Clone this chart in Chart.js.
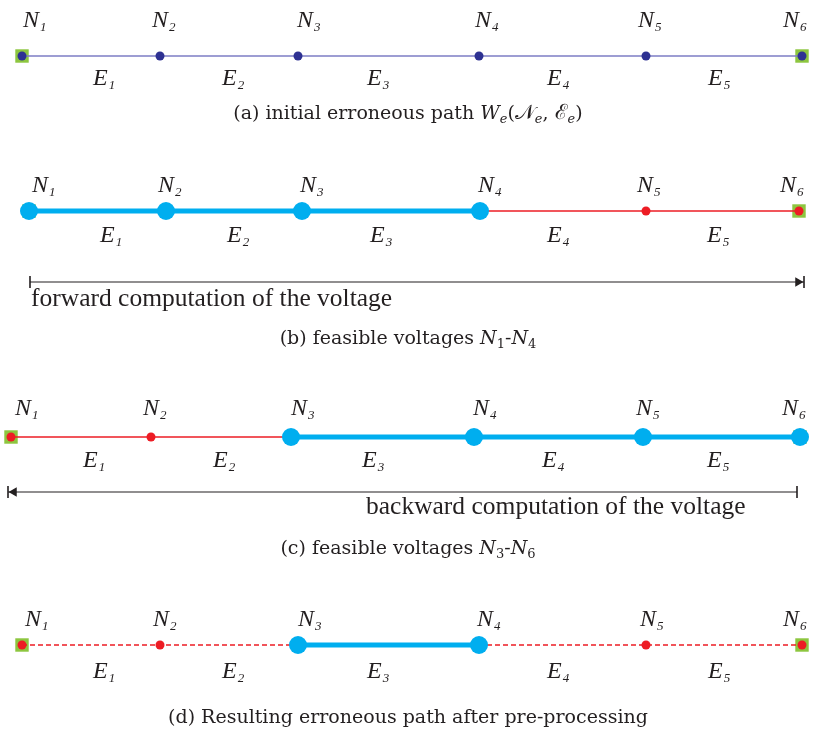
<!DOCTYPE html>
<html>
<head>
<meta charset="utf-8">
<script src="https://cdn.jsdelivr.net/npm/chart.js@4/dist/chart.umd.min.js"></script>
<style>
  html, body { margin: 0; padding: 0; background: #fff; }
  #path-chart { display: block; }
</style>
</head>
<body>
<canvas id="path-chart" width="817" height="735"></canvas>
<script>
// == 錯誤路徑前處理示意圖：四個面板 (a)-(d)，每列 6 個節點、5 條邊 ==

// 每個面板的路徑所在高度 (y 軸值)
const rowY = [56, 211, 437, 645];

// 節點位置 N1..N6
const nodeX = [
    [22, 160, 298, 479, 646, 802],
    [29, 166, 302, 480, 646, 799],
    [11, 151, 291, 474, 643, 800],
    [22, 160, 298, 479, 646, 802]
];

// 節點狀態：p = 原始, f = 可行電壓, x = 不可行
const nodeState = [
    ['p', 'p', 'p', 'p', 'p', 'p'],
    ['f', 'f', 'f', 'f', 'x', 'x'],
    ['x', 'x', 'f', 'f', 'f', 'f'],
    ['x', 'x', 'f', 'f', 'x', 'x']
];

// 邊狀態：d = 虛線 (被移除)
const edgeState = [
    ['p', 'p', 'p', 'p', 'p'],
    ['f', 'f', 'f', 'x', 'x'],
    ['x', 'x', 'f', 'f', 'f'],
    ['d', 'd', 'f', 'd', 'd']
];

// 標籤位置
const nodeNames = ['1', '2', '3', '4', '5', '6'];
const edgeNames = ['1', '2', '3', '4', '5'];
const nLabelX = [
    [23, 152, 297, 475, 638, 783],
    [32, 158, 300, 478, 637, 780],
    [15, 143, 291, 473, 636, 782],
    [25, 153, 298, 477, 640, 783]
];
const nLabelY = [27, 192, 415, 626];
const eLabelX = [
    [93, 222, 367, 547, 708],
    [100, 227, 370, 547, 707],
    [83, 213, 362, 542, 707],
    [93, 222, 367, 547, 708]
];
const eLabelY = [85, 242, 467, 678];

// 計算方向箭頭 (b) 正向, (c) 反向
const arrowY = [282, 492];
const arrowFrom = [30, 8];
const arrowTo = [804, 797];
const arrowHeadX = [798, 14];
const arrowHeadRot = [90, 270];
const arrowText = ['forward computation of the voltage', 'backward computation of the voltage'];
const arrowTextX = [31, 366];
const arrowTextY = [306, 514];

// 說明文字
const captionX = 408;
const captionY = [119, 344, 554, 723];
const captions = [
    [['(a) initial erroneous path ', 'r'], ['W', 'i'], ['e', 'si'], ['(', 'r'], ['\u{1D4A9}', 'c'], ['e', 'si'], [', ', 'r'], ['\u2130', 'c'], ['e', 'si'], [')', 'r']],
    [['(b) feasible voltages ', 'r'], ['N', 'i'], ['1', 's'], ['-', 'r'], ['N', 'i'], ['4', 's']],
    [['(c) feasible voltages ', 'r'], ['N', 'i'], ['3', 's'], ['-', 'r'], ['N', 'i'], ['6', 's']],
    [['(d) Resulting erroneous path after pre-processing', 'r']]
];

const colors = {
    navy: '#2e3192',
    navyLine: '#7d7dc4',
    cyan: '#00aeef',
    red: '#ed1c24',
    green: '#8dc63f',
    ink: '#231f20'
};

const SERIF = '"Liberation Serif", "DejaVu Serif", serif';
const CAPTION = '"DejaVu Serif", serif';

const datasets = [];

rowY.forEach((y, p) => {
    const pts = nodeX[p].map(x => ({ x: x, y: y }));

    // 路徑邊
    datasets.push({
        data: pts,
        showLine: true,
        pointRadius: 0,
        order: 2,
        borderColor: colors.navyLine,
        borderWidth: 1.5,
        segment: {
            borderColor: ctx => {
                const s = edgeState[p][ctx.p0DataIndex];
                return s === 'p' ? colors.navyLine : s === 'f' ? colors.cyan : colors.red;
            },
            borderWidth: ctx => edgeState[p][ctx.p0DataIndex] === 'f' ? 5 : 1.3,
            borderDash: ctx => edgeState[p][ctx.p0DataIndex] === 'd' ? [5, 3] : []
        }
    });

    // 節點
    datasets.push({
        data: pts,
        showLine: false,
        order: 1,
        pointRadius: nodeState[p].map(s => s === 'f' ? 9 : 4.5),
        pointBackgroundColor: nodeState[p].map(s => s === 'p' ? colors.navy : s === 'f' ? colors.cyan : colors.red),
        pointBorderWidth: 0
    });

    // 端點綠色方塊
    datasets.push({
        data: [pts[0], pts[pts.length - 1]],
        showLine: false,
        order: 3,
        pointStyle: 'rect',
        pointRadius: 9.5,
        pointBackgroundColor: colors.green,
        pointBorderWidth: 0
    });
});

arrowY.forEach((y, i) => {
    // 箭頭主線與端點短豎線
    datasets.push({
        data: [{ x: arrowFrom[i], y: y }, { x: arrowTo[i], y: y }],
        showLine: true,
        order: 2,
        borderColor: colors.ink,
        borderWidth: 1.2,
        pointStyle: 'line',
        pointRotation: 90,
        pointRadius: 6,
        pointBorderColor: colors.ink,
        pointBorderWidth: 1.6
    });
    // 箭頭三角形
    datasets.push({
        data: [{ x: arrowHeadX[i], y: y }],
        showLine: false,
        order: 1,
        pointStyle: 'triangle',
        pointRotation: arrowHeadRot[i],
        pointRadius: 5.5,
        pointBackgroundColor: colors.ink,
        pointBorderWidth: 0
    });
});

function fontFor(style) {
    switch (style) {
        case 'i': return 'italic 19px ' + CAPTION;
        case 'c': return '21px ' + CAPTION;
        case 'si': return 'italic 13px ' + CAPTION;
        case 's': return '13px ' + CAPTION;
        default: return '19px ' + CAPTION;
    }
}

function drawRuns(ctx, runs, x, y) {
    let total = 0;
    runs.forEach(([t, s]) => { ctx.font = fontFor(s); total += ctx.measureText(t).width; });
    let cx = x - total / 2;
    runs.forEach(([t, s]) => {
        ctx.font = fontFor(s);
        ctx.fillText(t, cx, (s === 's' || s === 'si') ? y + 4 : y);
        cx += ctx.measureText(t).width;
    });
}

function drawSubLabel(ctx, letter, sub, x, y) {
    ctx.font = 'italic 24px ' + SERIF;
    ctx.fillText(letter, x, y);
    const w = ctx.measureText(letter).width;
    ctx.font = 'italic 13px ' + SERIF;
    ctx.fillText(sub, x + w + 1, y + 4);
}

const diagramText = {
    id: 'diagramText',
    afterDatasetsDraw(chart) {
        const ctx = chart.ctx;
        const xs = chart.scales.x;
        const ys = chart.scales.y;
        ctx.save();
        ctx.fillStyle = colors.ink;
        ctx.textBaseline = 'alphabetic';
        ctx.textAlign = 'left';

        rowY.forEach((_, p) => {
            nodeNames.forEach((n, i) => {
                drawSubLabel(ctx, 'N', n, xs.getPixelForValue(nLabelX[p][i]), ys.getPixelForValue(nLabelY[p]));
            });
            edgeNames.forEach((n, i) => {
                drawSubLabel(ctx, 'E', n, xs.getPixelForValue(eLabelX[p][i]), ys.getPixelForValue(eLabelY[p]));
            });
            drawRuns(ctx, captions[p], xs.getPixelForValue(captionX), ys.getPixelForValue(captionY[p]));
        });

        ctx.font = '25.5px ' + SERIF;
        arrowText.forEach((t, i) => {
            ctx.fillText(t, xs.getPixelForValue(arrowTextX[i]), ys.getPixelForValue(arrowTextY[i]));
        });
        ctx.restore();
    }
};

new Chart(document.getElementById('path-chart'), {
    type: 'scatter',
    data: { datasets: datasets },
    options: {
        responsive: false,
        animation: false,
        events: [],
        layout: { padding: 0, autoPadding: false },
        plugins: { legend: { display: false }, tooltip: { enabled: false } },
        scales: {
            x: { type: 'linear', min: 0, max: 817, display: false },
            y: { type: 'linear', min: 0, max: 735, reverse: true, display: false }
        }
    },
    plugins: [diagramText]
});
</script>
</body>
</html>
